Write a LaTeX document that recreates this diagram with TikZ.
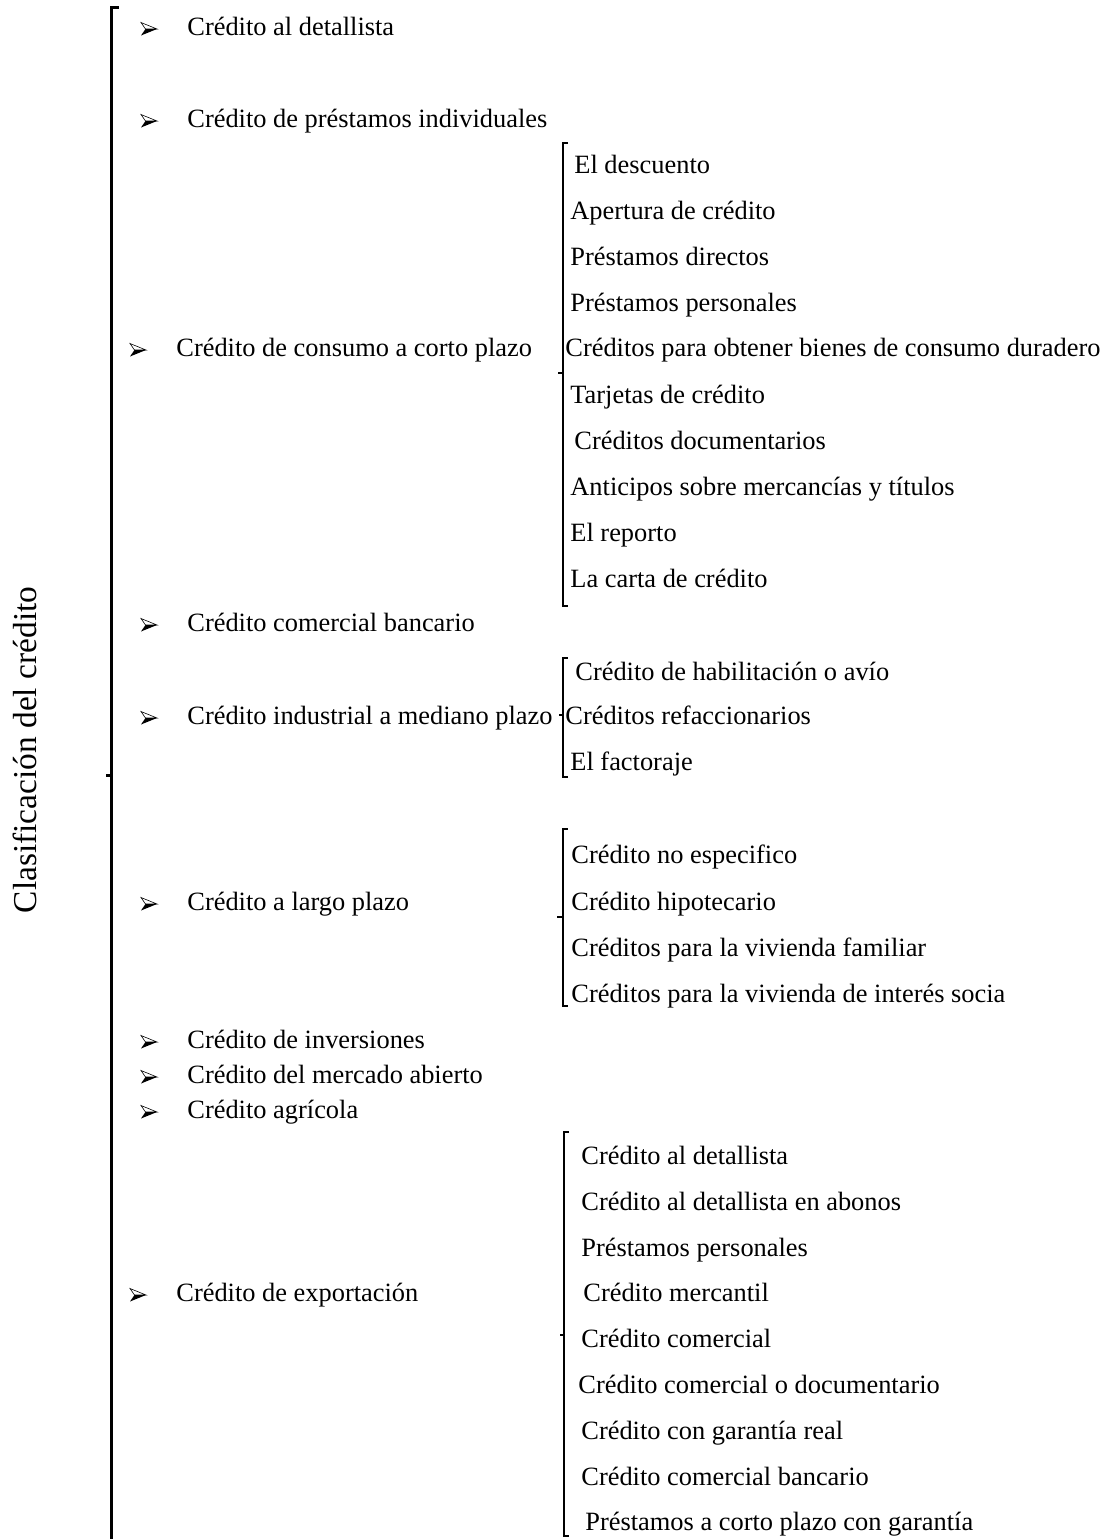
\documentclass[tikz,border=0pt]{standalone}
\usepackage{fontspec}
\setmainfont{Liberation Serif}
\usetikzlibrary{calc}
\begin{document}
\begin{tikzpicture}[x=0.5pt,y=-0.5pt,
  item/.style={anchor=base west, inner sep=0pt, font=\fontsize{13.2}{15}\selectfont},
  ttl/.style={anchor=base, inner sep=0pt, rotate=90, font=\fontsize{16.7}{19}\selectfont},
  brk/.style={line width=1pt},
  mainbrk/.style={line width=1.5pt},
  bul/.pic={\draw[line width=0.3pt, fill=white, line join=miter] (16,0) -- (0,-6.5) -- (4.5,0) -- cycle;
            \fill (16,0) -- (4.5,0) -- (0,6.5) -- cycle;}
]
\useasboundingbox (0,0) rectangle (1107,1539);

% title
\node[ttl] (title) at (37,750) {Clasificación del crédito};

% main bracket
\coordinate (mtop) at (111.5,7);
\coordinate (mbot) at (111.5,1545);
\coordinate (mtick) at (111.5,775);
\draw[mainbrk] ($(mtop)+(7,0)$) -- (mtop) -- (mbot);
\draw[mainbrk] (mtick) -- ++(-6,0);

% main items
\foreach \nm/\bx/\tx/\by/\txt in {
  m1/141/187/35/{Crédito al detallista},
  m2/141/187/127/{Crédito de préstamos individuales},
  m3/130/176/356/{Crédito de consumo a corto plazo},
  m4/141/187/631/{Crédito comercial bancario},
  m5/141/187/724/{Crédito industrial a mediano plazo},
  m6/141/187/910/{Crédito a largo plazo},
  m7/141/187/1048/{Crédito de inversiones},
  m8/141/187/1083/{Crédito del mercado abierto},
  m9/141/187/1118/{Crédito agrícola},
  m10/130/176/1301/{Crédito de exportación}}{
  \node[item] (\nm) at (\tx,\by) {\txt};
  \pic at (\bx,\by-6) {bul};
}

% sub items
\foreach \nm/\tx/\by/\txt in {
  a1/574/173/{El descuento},
  a2/570/219/{Apertura de crédito},
  a3/570/265/{Préstamos directos},
  a4/570/311/{Préstamos personales},
  a5/565/356/{Créditos para obtener bienes de consumo duradero},
  a6/570/403/{Tarjetas de crédito},
  a7/574/449/{Créditos documentarios},
  a8/570/495/{Anticipos sobre mercancías y títulos},
  a9/570/541/{El reporto},
  a10/570/587/{La carta de crédito},
  b1/575/680/{Crédito de habilitación o avío},
  b2/565/724/{Créditos refaccionarios},
  b3/570/770/{El factoraje},
  c1/571/863/{Crédito no especifico},
  c2/571/910/{Crédito hipotecario},
  c3/571/956/{Créditos para la vivienda familiar},
  c4/571/1002/{Créditos para la vivienda de interés socia},
  d1/581/1164/{Crédito al detallista},
  d2/581/1210/{Crédito al detallista en abonos},
  d3/581/1256/{Préstamos personales},
  d4/583/1301/{Crédito mercantil},
  d5/581/1347/{Crédito comercial},
  d6/578/1393/{Crédito comercial o documentario},
  d7/581/1439/{Crédito con garantía real},
  d8/581/1485/{Crédito comercial bancario},
  d9/585/1530/{Préstamos a corto plazo con garantía}}{
  \node[item] (\nm) at (\tx,\by) {\txt};
}

% sub brackets
\foreach \g/\x/\t/\b/\k/\kl in {
  A/563/143/606/373/5,
  B/562.5/658/777/715/4,
  C/562.5/829/1006/917/6,
  D/564/1132/1536/1335/4}{
  \coordinate (\g top) at (\x,\t);
  \coordinate (\g bot) at (\x,\b);
  \coordinate (\g tick) at (\x,\k);
  \draw[brk] ($(\g top)+(5,0)$) -- (\g top) -- (\g bot) -- ++(5,0);
  \draw[brk] (\g tick) -- ++(-\kl,0);
}
\end{tikzpicture}
\end{document}
